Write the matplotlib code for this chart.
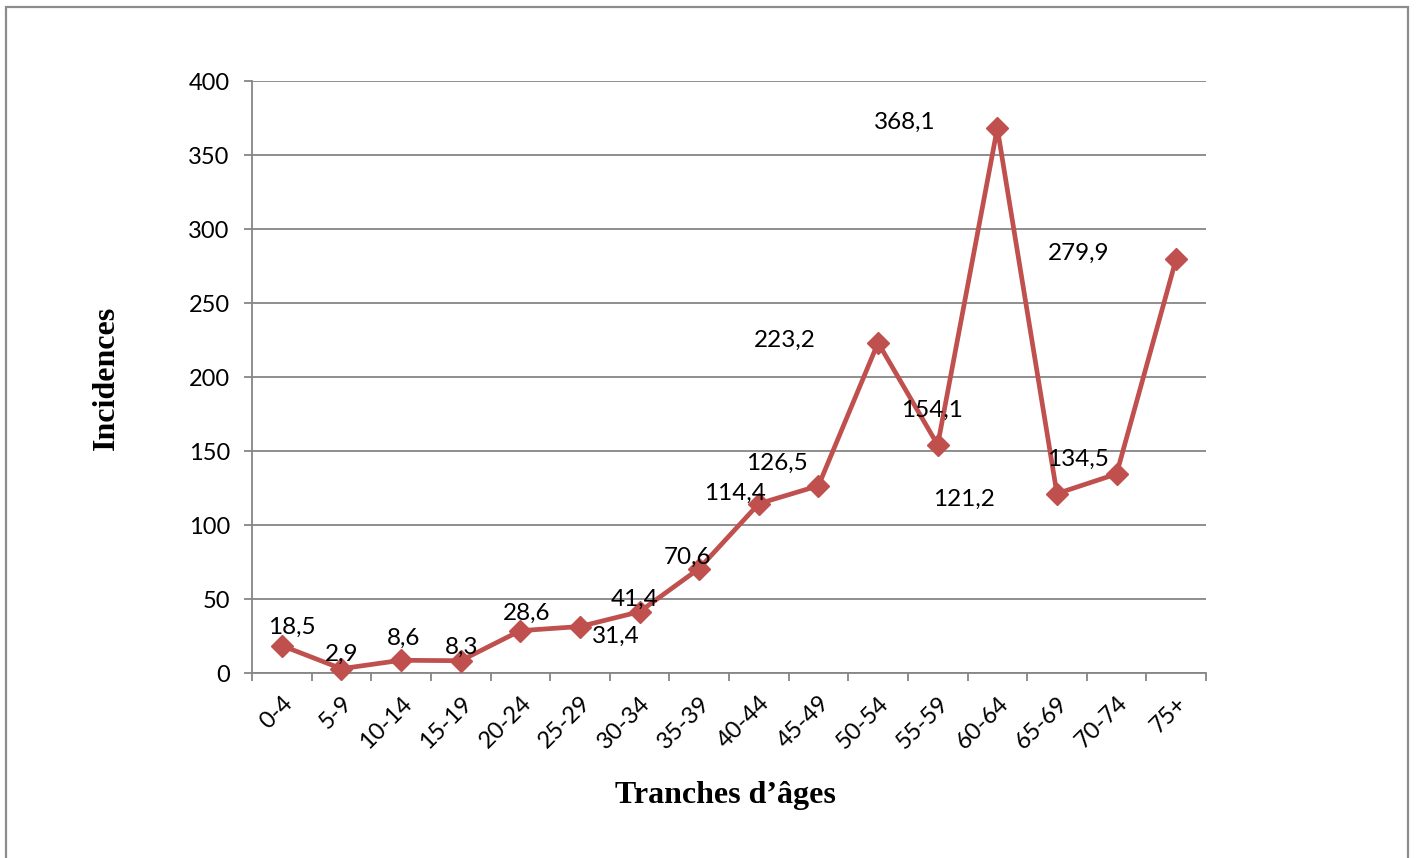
import matplotlib
matplotlib.use("Agg")
import matplotlib.pyplot as plt
from matplotlib.patches import Rectangle

categories = ["0-4", "5-9", "10-14", "15-19", "20-24", "25-29", "30-34", "35-39",
              "40-44", "45-49", "50-54", "55-59", "60-64", "65-69", "70-74", "75+"]
values = [18.5, 2.9, 8.6, 8.3, 28.6, 31.4, 41.4, 70.6,
          114.4, 126.5, 223.2, 154.1, 368.1, 121.2, 134.5, 279.9]
labels = ["18,5", "2,9", "8,6", "8,3", "28,6", "31,4", "41,4", "70,6",
          "114,4", "126,5", "223,2", "154,1", "368,1", "121,2", "134,5", "279,9"]
yticks = [0, 50, 100, 150, 200, 250, 300, 350, 400]

# label offsets in pixels (dx, dy with dy positive downward)
label_offsets = [(10, -18), (0, -14), (3, -22), (1, -13), (6, -17), (36, 10),
                 (-5, -12), (-12, -11), (-24, -10), (-42, -22), (-93, -2),
                 (-6, -35), (-93, -6), (-93, 6), (-39, -15), (-98, -5)]

W, H = 1418, 858
fig = plt.figure(figsize=(W / 100, H / 100), dpi=100)
fig.patch.set_facecolor("white")

# outer border
fig.patches.append(Rectangle((6 / W, -0.02), (1408 - 6) / W, (H - 7) / H + 0.02,
                             transform=fig.transFigure, fill=False,
                             edgecolor="#8c8c8c", linewidth=1.6))

ax = fig.add_axes([252 / W, (H - 673) / H, (1206 - 252) / W, (673 - 81) / H])
red = "#C0504D"
grid_c = "#868686"
x = list(range(len(categories)))
ax.plot(x, values, color=red, linewidth=3.4, marker="D", markersize=11,
        markerfacecolor=red, markeredgecolor=red, zorder=3, clip_on=False)

tick_font = "Lato"
for xi, v, lab, (dx, dy) in zip(x, values, labels, label_offsets):
    ax.annotate(lab, (xi, v), xytext=(dx * 0.72, -dy * 0.72), textcoords="offset points",
                ha="center", va="center", fontsize=17.5, family=tick_font,
                color="black", zorder=4)

ax.set_xlim(-0.5, len(categories) - 0.5)
ax.set_ylim(0, 400)
ax.set_yticks(yticks)
ax.set_yticklabels([str(t) for t in yticks], fontsize=17, family=tick_font)
ax.yaxis.grid(True, color=grid_c, linewidth=1.3)
ax.set_axisbelow(True)

ax.set_xticks(x)
ax.set_xticklabels(categories, rotation=45, ha="right", va="top",
                   rotation_mode="anchor", fontsize=17, family=tick_font)
ax.tick_params(axis="x", which="major", length=0, pad=14)
ax.set_xticks([i - 0.5 for i in range(len(categories) + 1)], minor=True)
ax.tick_params(axis="x", which="minor", length=6, width=1.3, color=grid_c, direction="out")
ax.tick_params(axis="y", length=6, width=1.3, color=grid_c, pad=10)

for s in ["top", "right"]:
    ax.spines[s].set_visible(False)
for s in ["left", "bottom"]:
    ax.spines[s].set_color(grid_c)
    ax.spines[s].set_linewidth(1.3)

fig.text(106 / W, 1 - 378 / H, "Incidences", rotation=90, ha="center", va="center",
         fontsize=23, fontweight="bold", family="Liberation Serif")
fig.text(725 / W, 1 - 795 / H, "Tranches d\u2019âges", ha="center", va="center",
         fontsize=23, fontweight="bold", family="Liberation Serif")

fig.savefig("out.png", dpi=100)
